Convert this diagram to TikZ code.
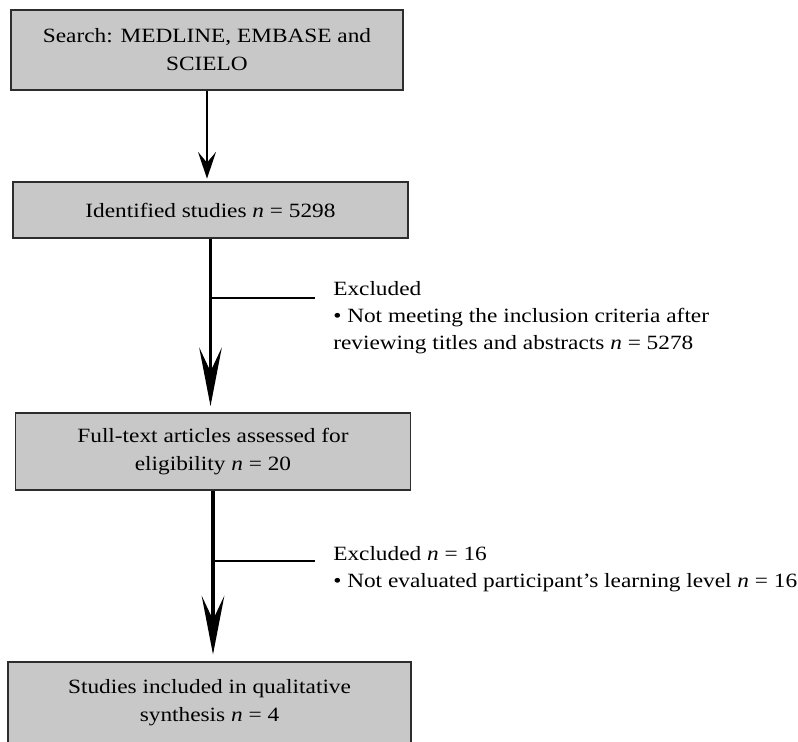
\documentclass[tikz,border=0pt]{standalone}
\usepackage{fontspec}
\setmainfont{Liberation Serif}[FakeStretch=1.15]
\usetikzlibrary{arrows.meta}
\definecolor{boxgray}{RGB}{200,200,200}
\definecolor{boxline}{RGB}{45,45,45}

\begin{document}
\begin{tikzpicture}[x=0.75pt,y=-0.75pt,
	box/.style={draw=boxline,fill=boxgray,line width=1.1pt,align=center,inner sep=0pt,font=\fontsize{15.2}{21}\selectfont},
	note/.style={align=left,anchor=north west,inner sep=0pt,font=\fontsize{15.2}{20.5}\selectfont},
	flow/.style={line width=1.5pt,-{Stealth[length=20pt,width=13.5pt,inset=8pt]}},
	bigflow/.style={line width=2.4pt,-{Stealth[length=44pt,width=17pt,inset=18pt]}},
	cut/.style={line width=2.2pt,shorten >=13.5pt}]
			\useasboundingbox (0,0) rectangle (798,741);
			\node[box,minimum width=294pt,minimum height=60pt] (search) at (207,50) {Search: MEDLINE, EMBASE and\\SCIELO};
			\node[box,minimum width=296pt,minimum height=42pt] (ident) at (210.5,210) {Identified studies \textit{n} = 5298};
			\node[box,minimum width=296pt,minimum height=58pt] (fulltext) at (213,451.5) {Full-text articles assessed for\\eligibility \textit{n} = 20};
			\node[box,minimum width=302pt,minimum height=61pt] (incl) at (209.5,702.5) {Studies included in qualitative\\synthesis \textit{n} = 4};
			\node[note] (excl1) at (333,281) {Excluded\\• Not meeting the inclusion criteria after\\reviewing titles and abstracts \textit{n} = 5278};
			\node[note] (excl2) at (333,546) {Excluded \textit{n} = 16\\• Not evaluated participant’s learning level \textit{n} = 16};
			% arrows between the boxes
			\draw[flow,shorten >=2pt] (search.south) -- (search.south |- ident.north);
			\draw[bigflow,shorten >=4.5pt] (ident.south) -- (ident.south |- fulltext.north);
			\draw[bigflow,shorten >=5pt] (fulltext.south) -- (fulltext.south |- incl.north);
			% excluded branches
			\coordinate (cut1) at (210.5,298);
			\coordinate (cut2) at (213,561);
			\draw[cut] (cut1) -- (cut1 -| excl1.west);
			\draw[cut] (cut2) -- (cut2 -| excl2.west);
		\end{tikzpicture}
\end{document}
